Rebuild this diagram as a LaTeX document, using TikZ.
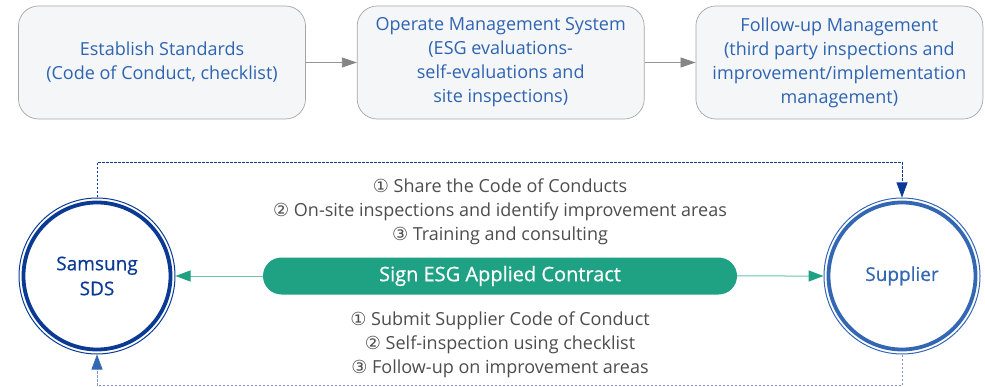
\documentclass[tikz,border=0pt]{standalone}
\usepackage{fontspec}
\setmainfont{Open Sans}
\newfontfamily\symfont{DejaVu Sans}
\newfontfamily\midfont[FakeBold=0.6]{Open Sans}
\usetikzlibrary{arrows.meta, positioning, shapes.misc}
\definecolor{boxfill}{HTML}{F4F6F7}
\definecolor{boxline}{HTML}{A6A6A6}
\definecolor{boxtext}{HTML}{2F64B2}
\definecolor{sdsblue}{HTML}{0B3A94}
\definecolor{supblue}{HTML}{3467B3}
\definecolor{esgteal}{HTML}{1FA184}
\definecolor{esgline}{HTML}{6DC3AC}
\definecolor{notegray}{HTML}{4D4D4D}
\definecolor{backblue}{HTML}{7A98CB}
\newcommand{\cnum}[1]{{\symfont #1}}

\begin{document}
\begin{tikzpicture}[
    x=1pt, y=1pt,
    node distance=51pt,
    font=\fontsize{18}{24}\selectfont,
    stage/.style={
      draw=boxline, fill=boxfill, rounded corners=20pt,
      line width=0.7pt, text=boxtext, align=center,
      minimum width=287pt, minimum height=113pt, inner sep=2pt
    },
    party/.style={
      circle, draw, line width=1pt, minimum size=156pt,
      inner sep=0pt, align=center, font=\midfont\fontsize{19}{25}\selectfont
    },
    ring/.style={
      path picture={\draw[line width=3.8pt, #1]
        (path picture bounding box.center) circle[radius=73.5pt];}
    },
    contract/.style={
      rounded rectangle, fill=esgteal, text=white,
      minimum width=474pt, minimum height=37pt, inner sep=0pt,
      font=\midfont\fontsize{20}{22}\selectfont
    },
    notes/.style={text=notegray, align=center},
    flow/.style={draw=boxline!90!black, line width=0.8pt,
      -{Triangle[length=15pt, width=10pt, color=boxline!80!black]}},
    sign/.style={draw=esgline, line width=1pt,
      -{Triangle[length=15pt, width=11pt, color=esgteal]}},
    back/.style={line width=0.7pt, dash pattern=on 2.5pt off 1.5pt,
      -{Triangle[length=15pt, width=11pt]}}
  ]

    \useasboundingbox (0,0) rectangle (985,386);

    % --- Stages ---
    \node[stage] (std) at (162,323.5)
    {Establish Standards\\(Code of Conduct, checklist)};
    \node[stage, right=of std] (ops)
    {Operate Management System\\(ESG evaluations-\\self-evaluations and\\site inspections)};
    \node[stage, right=of ops] (follow)
    {Follow-up Management\\(third party inspections and\\improvement/implementation\\management)};

    \draw[flow] (std) -- (ops);
    \draw[flow] (ops) -- (follow);

    % --- Parties ---
    \node[party, draw=sdsblue, text=sdsblue, ring=sdsblue] (sds) at (97,110)
    {Samsung\\SDS};
    \node[party, draw=supblue, text=supblue, ring=supblue] (sup) at (902,110)
    {Supplier};

    % --- Contract ---
    \node[contract] (sign) at (500,110) {Sign ESG Applied Contract};

    \draw[sign] (sign) -- (sds);
    \draw[sign] (sign) -- (sup);

    % --- Notes ---
    \node[notes] (give) at (500,174)
    {\cnum{①} Share the Code of Conducts\\
     \cnum{②} On-site inspections and identify improvement areas\\
     \cnum{③} Training and consulting};
    \node[notes] (take) at (500,41)
    {\cnum{①} Submit Supplier Code of Conduct\\
     \cnum{②} Self-inspection using checklist\\
     \cnum{③} Follow-up on improvement areas};

    % --- Dashed loops ---
    \draw[back, sdsblue] (sds.north) -- ++(0,35) -| (sup.north);
    \draw[back, backblue, -{Triangle[length=15pt, width=11pt, color=supblue]}]
      (sup.south) -- ++(0,-31) -| (sds.south);

\end{tikzpicture}
\end{document}
